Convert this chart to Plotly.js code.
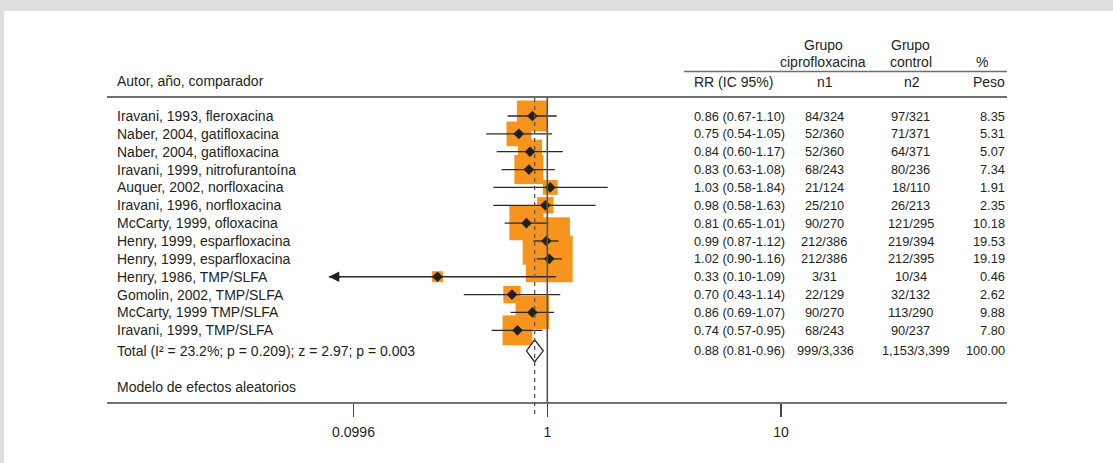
<!DOCTYPE html>
<html>
<head>
<meta charset="utf-8">
<script src="https://cdn.plot.ly/plotly-3.0.1.min.js"></script>
<style>html,body{margin:0;padding:0;background:#fff;}#chart{width:1113px;height:463px;}</style>
</head>
<body>
<div id="chart"></div>
<script>
// ---------- data ----------
const studies = [
  "Iravani, 1993, fleroxacina",
  "Naber, 2004, gatifloxacina",
  "Naber, 2004, gatifloxacina",
  "Iravani, 1999, nitrofurantoína",
  "Auquer, 2002, norfloxacina",
  "Iravani, 1996, norfloxacina",
  "McCarty, 1999, ofloxacina",
  "Henry, 1999, esparfloxacina",
  "Henry, 1999, esparfloxacina",
  "Henry, 1986, TMP/SLFA",
  "Gomolin, 2002, TMP/SLFA",
  "McCarty, 1999 TMP/SLFA",
  "Iravani, 1999, TMP/SLFA"
];
const rr    = [0.86, 0.75, 0.84, 0.83, 1.03, 0.98, 0.81, 0.99, 1.02, 0.33, 0.70, 0.86, 0.74];
const ciLow = [0.67, 0.54, 0.60, 0.63, 0.58, 0.58, 0.65, 0.87, 0.90, 0.10, 0.43, 0.69, 0.57];
const ciHigh= [1.10, 1.05, 1.17, 1.08, 1.84, 1.63, 1.01, 1.12, 1.16, 1.09, 1.14, 1.07, 0.95];
const n1    = ["84/324","52/360","52/360","68/243","21/124","25/210","90/270","212/386","212/386","3/31","22/129","90/270","68/243"];
const n2    = ["97/321","71/371","64/371","80/236","18/110","26/213","121/295","219/394","212/395","10/34","32/132","113/290","90/237"];
const weights = [8.35, 5.31, 5.07, 7.34, 1.91, 2.35, 10.18, 19.53, 19.19, 0.46, 2.62, 9.88, 7.80];

const totalLabel = "Total (I² = 23.2%; p = 0.209); z = 2.97; p = 0.003";
const totalRR = 0.88, totalLow = 0.81, totalHigh = 0.96;
const totalN1 = "999/3,336", totalN2 = "1,153/3,399", totalWeight = 100.00;
const modelLabel = "Modelo de efectos aleatorios";

const tickLabels = ["0.0996", "1", "10"];

// ---------- layout constants ----------
const W = 1113, H = 463, PLOT_B = 403;     // plot area bottom (axis line)
const FONT = "'Liberation Sans Narrow', 'Arial Narrow', 'Liberation Sans', Arial, sans-serif";
const TXT = "#231f20";
const ORANGE = "#f7941d";
const XRANGE = [-2.4004, 2.4811];           // log10(RR) units
const YRANGE = [16.07, -6.495];             // row units (reversed)
const TICK_POS = [-0.850, 0, 1.025];
const CLIP_LOG = -0.958;                    // lower display limit of CIs
const TOTAL_ROW = 13.15, MODEL_ROW = 15.15;
const NUM_SIZE = 12.8;

const xp = px => px / W;
const yp = py => 1 - py / PLOT_B;
const lg = v => Math.log10(v);
const rows = studies.map((_, i) => i);

// ---------- traces ----------
const boxes = {
  type: "scatter", mode: "markers", hoverinfo: "skip",
  x: rr.map(lg), y: rows,
  marker: {symbol: "square", color: ORANGE, opacity: 1,
           size: weights.map(w => Math.max(11, 10.7 * Math.sqrt(w))), line: {width: 0}}
};

const cx = [], cy = [];
rows.forEach(i => {
  cx.push(Math.max(lg(ciLow[i]), CLIP_LOG), lg(ciHigh[i]), null);
  cy.push(i, i, null);
});
const ciLines = {
  type: "scatter", mode: "lines", hoverinfo: "skip",
  x: cx, y: cy, line: {color: "#2a2a2a", width: 1.3}
};

const points = {
  type: "scatter", mode: "markers", hoverinfo: "skip",
  x: rr.map(lg), y: rows,
  marker: {symbol: "diamond", color: "#231f20", opacity: 1, size: 8.2, line: {width: 0}}
};

const dh = 0.62;
const totalDiamond = {
  type: "scatter", mode: "lines", hoverinfo: "skip",
  x: [lg(totalLow), lg(totalRR), lg(totalHigh), lg(totalRR), lg(totalLow)],
  y: [TOTAL_ROW, TOTAL_ROW - dh, TOTAL_ROW, TOTAL_ROW + dh, TOTAL_ROW],
  fill: "toself", fillcolor: "#ffffff",
  line: {color: "#231f20", width: 1.2}
};

// ---------- annotations ----------
const ann = [];
function t(text, x, y, opts, size) {
  ann.push(Object.assign({
    text: text, x: x, y: y, xref: "paper", yref: "paper",
    showarrow: false, xanchor: "left", yanchor: "middle",
    font: {family: FONT, size: size || 14, color: TXT}
  }, opts || {}));
}
// header
t("Autor, año, comparador", xp(115), yp(81));
t("Grupo", xp(823), yp(45), {xanchor: "center"});
t("ciprofloxacina", xp(823), yp(62.5), {xanchor: "center"});
t("Grupo", xp(911), yp(45), {xanchor: "center"});
t("control", xp(911), yp(62.5), {xanchor: "center"});
t("%", xp(982), yp(62.5), {xanchor: "center"});
t("RR (IC 95%)", xp(692), yp(82));
t("n1", xp(825), yp(82), {xanchor: "center"});
t("n2", xp(912), yp(82), {xanchor: "center"});
t("Peso", xp(1007), yp(82), {xanchor: "right"});

// rows
rows.forEach(i => {
  t(studies[i], xp(115), i, {yref: "y"});
  t(rr[i].toFixed(2) + " (" + ciLow[i].toFixed(2) + "-" + ciHigh[i].toFixed(2) + ")", xp(692), i, {yref: "y"}, NUM_SIZE);
  t(n1[i], xp(824), i, {yref: "y", xanchor: "center"}, NUM_SIZE);
  t(n2[i], xp(911), i, {yref: "y", xanchor: "center"}, NUM_SIZE);
  t(weights[i].toFixed(2), xp(1007), i, {yref: "y", xanchor: "right"}, NUM_SIZE);
});
t(totalLabel, xp(115), TOTAL_ROW, {yref: "y"});
t(totalRR.toFixed(2) + " (" + totalLow.toFixed(2) + "-" + totalHigh.toFixed(2) + ")", xp(692), TOTAL_ROW, {yref: "y"}, NUM_SIZE);
t(totalN1, xp(826), TOTAL_ROW, {yref: "y", xanchor: "center"}, NUM_SIZE);
t(totalN2, xp(916), TOTAL_ROW, {yref: "y", xanchor: "center"}, NUM_SIZE);
t(totalWeight.toFixed(2), xp(1007), TOTAL_ROW, {yref: "y", xanchor: "right"}, NUM_SIZE);
t(modelLabel, xp(115), MODEL_ROW, {yref: "y"});

// arrows for clipped CIs
rows.forEach(i => {
  if (lg(ciLow[i]) < CLIP_LOG) {
    ann.push({
      x: CLIP_LOG, y: i, ax: CLIP_LOG + 0.06, ay: i,
      xref: "x", yref: "y", axref: "x", ayref: "y",
      text: "", showarrow: true, arrowhead: 2, arrowsize: 1.6, arrowwidth: 1.3, arrowcolor: "#231f20"
    });
  }
});

// ---------- shapes ----------
const shapes = [
  // gray frame strips
  {type: "rect", xref: "paper", yref: "paper", x0: 0, x1: 1, y0: yp(11), y1: 1, fillcolor: "#dcdddf", line: {width: 0}},
  {type: "rect", xref: "paper", yref: "paper", x0: 0, x1: xp(4), y0: yp(H), y1: 1, fillcolor: "#dcdddf", line: {width: 0}},
  // header rules
  {type: "line", xref: "paper", yref: "paper", x0: xp(684), x1: xp(1007), y0: yp(71.5), y1: yp(71.5), line: {color: "#6d6e71", width: 1.5}},
  {type: "line", xref: "paper", yref: "paper", x0: xp(107), x1: xp(1007), y0: yp(97), y1: yp(97), line: {color: "#6d6e71", width: 2}},
  // axis line
  {type: "line", xref: "paper", yref: "paper", x0: xp(107), x1: xp(1007), y0: 0, y1: 0, line: {color: "#444", width: 1.6}},
  // null line at RR = 1
  {type: "line", xref: "x", yref: "paper", x0: lg(1), x1: lg(1), y0: yp(97), y1: 0, line: {color: "#555", width: 1.6}},
  // overall estimate dashed line
  {type: "line", xref: "x", yref: "paper", x0: lg(totalRR), x1: lg(totalRR), y0: yp(98), y1: yp(417), line: {color: "#555", width: 1.3, dash: "4px,4px"}}
];

const layout = {
  width: W, height: H,
  margin: {l: 0, r: 0, t: 0, b: H - PLOT_B, pad: 0},
  paper_bgcolor: "#ffffff", plot_bgcolor: "rgba(0,0,0,0)",
  showlegend: false,
  font: {family: FONT, size: 14, color: TXT},
  xaxis: {
    range: XRANGE, fixedrange: true,
    showgrid: false, zeroline: false, showline: false,
    tickmode: "array", tickvals: TICK_POS, ticktext: tickLabels,
    ticks: "outside", ticklen: 13, tickwidth: 1.3, tickcolor: "#444",
    ticklabelstandoff: 3,
    tickfont: {family: FONT, size: 14, color: TXT}
  },
  yaxis: {
    range: YRANGE, fixedrange: true,
    showgrid: false, zeroline: false, showline: false, showticklabels: false, ticks: ""
  },
  annotations: ann,
  shapes: shapes
};

Plotly.newPlot("chart", [boxes, ciLines, points, totalDiamond], layout, {staticPlot: true, displayModeBar: false});
</script>
</body>
</html>
